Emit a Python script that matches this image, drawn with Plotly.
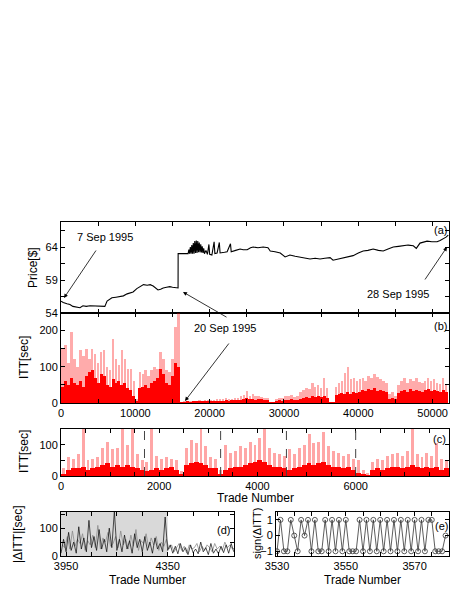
import plotly.graph_objects as go

# (a) price path: trade number -> price [$]
price_trade = [0, 300, 800, 1200, 1600, 2100, 2550, 2950, 3400, 3900, 4400, 4850, 5300, 5650, 5900,
               6200, 6500, 6850, 7400, 7950, 8400, 8900, 9300, 9700, 10200, 10650, 11100, 11600,
               12000, 12400, 12700, 13050, 13400, 13750, 14200, 14650, 15000, 15350, 15750, 15760,
               16500, 17100, 17200, 17300, 17400, 17500, 17600, 17700, 17800, 17900, 18000, 18100,
               18200, 18300, 18400, 18500, 18600, 18700, 18800, 18900, 19000, 19100, 19200, 19300,
               19500, 19700, 19900, 20000, 20300, 20600, 20700, 21000, 21300, 21400, 22000, 22350,
               22800, 22900, 23500, 24100, 24500, 25050, 25500, 25850, 26500, 27200, 27850, 28150,
               28800, 29500, 30150, 30800, 31500, 32150, 32800, 33500, 34200, 34850, 35500, 36200,
               36600, 37300, 37950, 38600, 39300, 40000, 40650, 41300, 42000, 42700, 43350, 44000,
               44700, 45400, 46050, 46700, 47400, 47800, 48300, 48800, 49250, 49900, 50600, 51000,
               51400, 51800, 52100]
price_value = [55.8, 55.6, 55.4, 55.3, 55.0, 54.9, 54.8, 55.1, 55.0, 55.1, 55.1, 55.0, 55.1, 55.0, 55.0,
               55.8, 56.1, 56.3, 56.4, 56.5, 56.6, 56.9, 57.0, 57.2, 57.7, 58.0, 58.3, 58.2,
               58.3, 58.1, 57.8, 57.5, 57.6, 57.8, 57.9, 58.0, 57.9, 57.8, 57.8, 63.0,
               63.0, 63.0, 63.6, 63.0, 64.0, 63.0, 64.3, 63.0, 64.6, 63.0, 64.9, 63.1,
               65.0, 63.1, 64.9, 63.2, 64.7, 63.2, 64.4, 63.2, 64.1, 63.1, 63.8, 63.0,
               63.5, 62.9, 64.4, 62.9, 62.8, 64.8, 63.0, 63.1, 64.7, 63.1, 63.2, 63.3,
               64.5, 63.3, 63.5, 63.7, 63.6, 63.6, 63.9, 64.0, 63.9, 64.0, 63.9, 63.4,
               63.3, 63.1, 62.5, 62.8, 62.6, 62.5, 62.3, 62.2, 62.3, 62.2, 62.3, 62.4,
               62.0, 62.2, 62.3, 62.5, 62.7, 63.1, 63.4, 63.5, 63.7, 63.5, 63.4, 63.7,
               64.0, 64.1, 64.2, 64.3, 64.2, 63.8, 64.6, 64.7, 64.9, 64.8, 64.8, 65.0,
               65.2, 65.5, 65.8]

# (b) inter-trade times, 400-trade bins: dense level and tallest spikes [sec]
itt_bin = 400
itt_body = [45, 60, 50, 70, 55, 50, 60, 45, 75, 85,
            90, 70, 55, 80, 75, 50, 45, 65, 55, 60,
            50, 55, 40, 35, 20, 5, 40, 45, 50, 40,
            55, 60, 70, 95, 80, 55, 50, 75, 110, 100,
            2, 2, 3, 2, 3, 3, 4, 3, 4, 4,
            5, 4, 6, 5, 6, 7, 6, 7, 8, 7,
            9, 11, 13, 10, 12, 9, 11, 10, 8, 9,
            1, 1, 5, 7, 6, 8, 9, 10, 8, 9,
            12, 14, 16, 15, 18, 17, 20, 16, 19, 15,
            1, 1, 22, 25, 28, 24, 30, 26, 29, 27,
            30, 35, 32, 38, 36, 40, 34, 37, 33, 30,
            12, 14, 10, 28, 32, 35, 30, 38, 34, 36,
            32, 30, 35, 38, 33, 36, 34, 31, 37, 30]
itt_peak = [150, 160, 110, 197, 120, 100, 145, 130, 150, 120,
            150, 135, 110, 140, 145, 100, 90, 175, 120, 105,
            145, 120, 95, 95, 60, 10, 85, 80, 90, 75,
            90, 100, 95, 140, 120, 90, 85, 120, 210, 250,
            4, 5, 6, 5, 6, 6, 7, 6, 8, 7,
            9, 8, 11, 10, 12, 13, 11, 12, 14, 13,
            18, 22, 32, 20, 25, 18, 20, 16, 14, 15,
            2, 2, 12, 15, 14, 18, 20, 22, 17, 19,
            30, 35, 40, 38, 55, 45, 50, 42, 69, 40,
            2, 3, 45, 55, 60, 82, 100, 65, 70, 60,
            65, 70, 60, 75, 68, 80, 73, 65, 60, 55,
            25, 30, 20, 50, 60, 69, 55, 65, 60, 70,
            58, 55, 62, 69, 60, 65, 55, 52, 69, 50]

# (c) first trades in detail, 100-trade bins [sec]
day_bin = 100
day_body = [5, 20, 25, 25, 30, 20, 25, 30, 35, 40,
            30, 35, 30, 35, 30, 25, 20, 15, 20, 25,
            20, 25, 30, 20, 5, 35, 40, 45, 40, 35,
            25, 25, 5, 20, 25, 30, 30, 35, 40, 45,
            50, 45, 35, 30, 30, 25, 20, 25, 30, 35,
            40, 35, 40, 45, 35, 30, 30, 25, 30, 20,
            10, 5, 3, 20, 25, 20, 25, 30, 30, 25,
            30, 35, 30, 25, 30, 25, 30, 20, 25]
day_peak = [25, 60, 55, 70, 150, 50, 55, 60, 90, 110,
            85, 90, 150, 100, 150, 70, 50, 45, 150, 65,
            55, 60, 55, 50, 15, 90, 115, 105, 150, 95,
            60, 55, 20, 100, 75, 80, 95, 90, 110, 100,
            120, 150, 90, 75, 70, 65, 85, 70, 90, 100,
            135, 105, 110, 140, 95, 80, 75, 65, 70, 55,
            50, 20, 10, 45, 55, 50, 65, 70, 75, 65,
            80, 150, 70, 60, 75, 65, 105, 55, 50]
day_breaks = [1700, 3250, 4590, 6000]

# (d) |dITT| [sec]: dark series every 10 trades from 3930, light series in between
dabs_start = 3930
dabs_step = 10
dabs_itt = [10, 60, 15, 85, 20, 50, 10, 105, 25, 65, 15, 128, 30, 70, 20, 95, 25, 60, 15, 100,
            30, 160, 20, 60, 15, 75, 25, 55, 10, 80, 30, 60, 15, 70, 20, 50, 10, 65, 25, 45,
            15, 140, 20, 40, 10, 35, 8, 45, 15, 30, 5, 40, 12, 25, 8, 50, 15, 30, 5, 45,
            10, 25, 8, 35, 12, 40, 10, 45, 15]
dabs_light = [40, 30, 70, 25, 90, 35, 60, 45, 80, 20, 55, 40, 75, 30, 110, 25, 65, 50, 85, 35,
              45, 70, 30, 90, 40, 60, 25, 75, 35, 95, 20, 55, 45, 80, 30, 65, 40, 70, 20, 50,
              35, 60, 25, 40, 15, 30, 45, 20, 35, 10, 40, 25, 30, 45, 15, 35, 20, 40, 30, 15,
              45, 25, 35, 20, 50, 30, 40, 25, 30]
dabs_shade_end = 4350

# (e) sign(dITT) for trades 3530..3579
sign_start = 3530
sign_ditt = [-1, 1, -1, -1, 1, 0, -1, 1, 0, 1, -1, 1, -1, -1, 1, -1, 1, -1, 1, -1,
             1, -1, -1, -1, 1, -1, 1, -1, 1, -1, 1, -1, 1, -1, 1, -1, 1, -1, 1, -1,
             1, -1, 1, -1, 1, 1, -1, -1, -1, 0]

# page body has an 8px margin, so the figure is drawn 16px smaller and shifted
PAD = 8
W, H = 463 - 2 * PAD, 599 - 2 * PAD
FONT = "Liberation Sans, Arial, Helvetica, sans-serif"


def px(x):
    return (x - PAD) / W


def py(y):
    return 1 - (y - PAD) / H


fig = go.Figure()

fig.add_trace(go.Scatter(x=price_trade, y=price_value, mode="lines",
                         line=dict(color="black", width=1.1), xaxis="x", yaxis="y"))

itt_x = [itt_bin * i + itt_bin / 2 for i in range(len(itt_body))]
fig.add_trace(go.Bar(x=itt_x, y=itt_peak, width=itt_bin * 0.85,
                     marker=dict(color="rgba(255,0,0,0.33)", line_width=0), xaxis="x2", yaxis="y2"))
fig.add_trace(go.Bar(x=itt_x, y=itt_body, width=itt_bin,
                     marker=dict(color="#ff0000", line_width=0), xaxis="x2", yaxis="y2"))

day_x = [day_bin * i + day_bin / 2 for i in range(len(day_body))]
fig.add_trace(go.Bar(x=day_x, y=day_peak, width=day_bin * 0.6,
                     marker=dict(color="rgba(255,0,0,0.35)", line_width=0), xaxis="x3", yaxis="y3"))
fig.add_trace(go.Bar(x=day_x, y=day_body, width=day_bin,
                     marker=dict(color="#ff0000", line_width=0), xaxis="x3", yaxis="y3"))

dabs_light_x = [dabs_start + dabs_step * i + dabs_step / 2 for i in range(len(dabs_light))]
fig.add_trace(go.Scatter(x=dabs_light_x, y=dabs_light, mode="lines",
                         line=dict(color="#8c8c8c", width=0.8), xaxis="x4", yaxis="y4"))
dabs_x = [dabs_start + dabs_step * i for i in range(len(dabs_itt))]
fig.add_trace(go.Scatter(x=dabs_x, y=dabs_itt, mode="lines",
                         line=dict(color="rgba(0,0,0,0.85)", width=0.8), xaxis="x4", yaxis="y4"))

sign_x = [sign_start + i for i in range(len(sign_ditt))]
fig.add_trace(go.Scatter(x=sign_x, y=sign_ditt, mode="lines+markers",
                         line=dict(color="#333333", width=0.8),
                         marker=dict(symbol="circle-open", size=5, color="#333333", line=dict(width=0.8)),
                         xaxis="x5", yaxis="y5"))

axis_common = dict(showline=True, linecolor="black", linewidth=1, mirror="ticks",
                   ticks="inside", ticklen=4, tickcolor="black", showgrid=False, zeroline=False,
                   automargin=False, tickfont=dict(family=FONT, size=11, color="black"))


def labels(vals, shown):
    return [str(v) if v in shown else "" for v in vals]


xa = [px(61), px(449)]
tick5k = list(range(0, 52001, 5000))
tick_c = list(range(0, 7901, 500))
tick_d = list(range(3950, 4611, 100))
tick_e = list(range(3530, 3580, 5))

fig.update_layout(
    width=W, height=H, autosize=False, showlegend=False, barmode="overlay", bargap=0,
    margin=dict(l=0, r=0, t=0, b=0, pad=0), paper_bgcolor="white", plot_bgcolor="white",
    font=dict(family=FONT, size=11, color="black"),
    xaxis=dict(axis_common, domain=xa, anchor="y", range=[0, 52200], tickvals=tick5k,
               showticklabels=False),
    yaxis=dict(axis_common, domain=[py(313), py(222)], anchor="x", range=[54, 67.8],
               tickvals=[54, 56.5, 59, 61.5, 64, 66.5], ticktext=["54", "", "59", "", "64", ""]),
    xaxis2=dict(axis_common, domain=xa, anchor="y2", range=[0, 52200], tickvals=tick5k,
                ticktext=labels(tick5k, range(0, 52001, 10000))),
    yaxis2=dict(axis_common, domain=[py(403), py(313)], anchor="x2", range=[0, 248],
                tickvals=[0, 50, 100, 150, 200], ticktext=["0", "", "100", "", "200"]),
    xaxis3=dict(axis_common, domain=xa, anchor="y3", range=[0, 7900], tickvals=tick_c,
                ticktext=labels(tick_c, [0, 2000, 4000, 6000])),
    yaxis3=dict(axis_common, domain=[py(476), py(429)], anchor="x3", range=[0, 150],
                tickvals=[0, 50, 100], ticktext=["0", "", "100"]),
    xaxis4=dict(axis_common, domain=[px(61), px(234)], anchor="y4", range=[3930, 4611],
                tickvals=tick_d, ticktext=labels(tick_d, [3950, 4350])),
    yaxis4=dict(axis_common, domain=[py(556), py(512)], anchor="x4", range=[0, 158],
                tickvals=[0, 50, 100, 150], ticktext=["0", "", "100", ""]),
    xaxis5=dict(axis_common, domain=[px(276), px(449)], anchor="y5", range=[3529.7, 3580],
                tickvals=tick_e, ticktext=labels(tick_e, [3530, 3550, 3570])),
    yaxis5=dict(axis_common, domain=[py(556), py(512)], anchor="x5", range=[-1.3, 1.5],
                tickvals=[-1, 0, 1]),
)

# day boundaries in (c)
for b in day_breaks:
    fig.add_shape(type="line", xref="x3", yref="y3 domain", x0=b, x1=b, y0=0, y1=1,
                  line=dict(color="#444444", width=1, dash="dash"))

# shaded block in (d)
fig.add_shape(type="rect", xref="x4", yref="y4 domain", x0=3930, x1=dabs_shade_end, y0=0, y1=1,
              fillcolor="#d9d9d9", line_width=0, layer="below")


def text(x, y, s, size=11, angle=0):
    fig.add_annotation(x=px(x), y=py(y), xref="paper", yref="paper", text=s, showarrow=False,
                       textangle=angle, xanchor="center", yanchor="middle",
                       font=dict(family=FONT, size=size, color="black"))


def arrow(x_tip, y_tip, x_tail, y_tail):
    fig.add_annotation(x=px(x_tip), y=py(y_tip), xref="paper", yref="paper", text="",
                       showarrow=True, ax=x_tail - x_tip, ay=y_tail - y_tip,
                       arrowhead=2, arrowsize=1, arrowwidth=0.8, arrowcolor="black")


text(105, 237, "7 Sep 1995")
text(398, 294, "28 Sep 1995")
text(225, 328, "20 Sep 1995")
arrow(64, 298, 97, 249)
arrow(447, 247, 424, 281)
arrow(183, 292, 228, 318)
arrow(185, 401, 230, 342)

text(440, 230, "(a)")
text(440, 326, "(b)")
text(439, 439, "(c)")
text(223, 530, "(d)")
text(441, 526, "(e)")

text(33, 268, "Price[$]", size=12, angle=-90)
text(24, 358, "ITT[sec]", size=12, angle=-90)
text(24, 452, "ITT[sec]", size=12, angle=-90)
text(18, 534, "|ΔITT|[sec]", size=12, angle=-90)
text(257, 534, "sign(ΔITT)", size=11, angle=-90)
text(255, 498, "Trade Number", size=12)
text(147, 580, "Trade Number", size=12)
text(362, 580, "Trade Number", size=12)

fig.write_html("out.html")
